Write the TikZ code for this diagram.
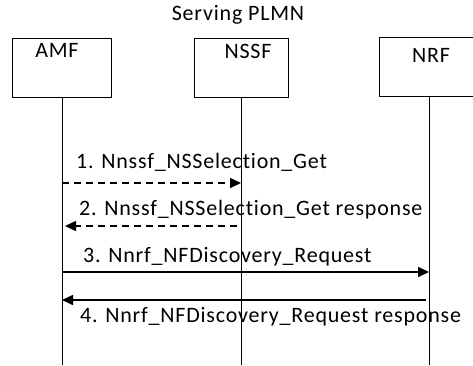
\documentclass[tikz,border=0pt]{standalone}
\usepackage{fontspec}
\setmainfont{Carlito}[LetterSpace=3.6, Ligatures=NoCommon]
\usetikzlibrary{arrows.meta, positioning}

\tikzset{
    nfbox/.style={draw, line width=0.8pt, minimum height=59pt, inner sep=0pt},
    lifeline/.style={line width=0.8pt},
    msg/.style={line width=1.6pt, -{Triangle[length=11pt, width=10pt]}},
    msgdash/.style={msg, dash pattern=on 7pt off 5pt},
    msgtext/.style={anchor=west, inner sep=0pt, font=\fontsize{22}{25}\selectfont}
}

\begin{document}
\begin{tikzpicture}[x=1pt, y=-1pt]
                \useasboundingbox (0,0) rectangle (473,365);
                \node[font=\fontsize{22}{25}\selectfont] (title) at (238, 15) {Serving PLMN};

                \node[nfbox, minimum width=99pt] (amf) at (62, 67.5) {};
                \node[nfbox, minimum width=94pt] (nssf) at (241, 67.5) {};
                \node[nfbox, minimum width=100pt] (nrf) at (429, 66.5) {};
                \node[msgtext, anchor=center] (amflbl) at (57, 50) {AMF};
                \node[msgtext, anchor=center] (nssflbl) at (248, 51) {NSSF};
                \node[msgtext, anchor=center] (nrflbl) at (431, 55) {NRF};

                \coordinate (amfend) at (amf.south |- 0, 365);
                \coordinate (nssfend) at (nssf.south |- 0, 365);
                \coordinate (nrfend) at (nrf.south |- 0, 365);
                \draw[lifeline] (amf.south) -- (amfend);
                \draw[lifeline] (nssf.south) -- (nssfend);
                \draw[lifeline] (nrf.south) -- (nrfend);

                % messages
                \coordinate (m1a) at (amf.south |- 0, 183);
                \coordinate (m1b) at (nssf.south |- 0, 183);
                \coordinate (m2a) at (amf.south |- 0, 226);
                \coordinate (m2b) at (nssf.south |- 0, 226);
                \coordinate (m3a) at (amf.south |- 0, 272);
                \coordinate (m3b) at (nrf.south |- 0, 272);
                \coordinate (m4a) at (amf.south |- 0, 300);
                \coordinate (m4b) at (nrf.south |- 0, 300);

                \draw[msgdash] (m1a) -- (m1b);
                \draw[msgdash, shorten <=4pt, shorten >=3pt] (m2b) -- (m2a);
                \draw[msg] (m3a) -- (m3b);
                \draw[msg, shorten <=3pt] (m4b) -- (m4a);

                \node[msgtext] (l1) at (76, 162) {1. Nnssf\_NSSelection\_Get};
                \node[msgtext] (l2) at (79, 210) {2. Nnssf\_NSSelection\_Get response};
                \node[msgtext] (l3) at (83, 257) {3. Nnrf\_NFDiscovery\_Request};
                \node[msgtext] (l4) at (80, 317) {4. Nnrf\_NFDiscovery\_Request response};
            \end{tikzpicture}
\end{document}
